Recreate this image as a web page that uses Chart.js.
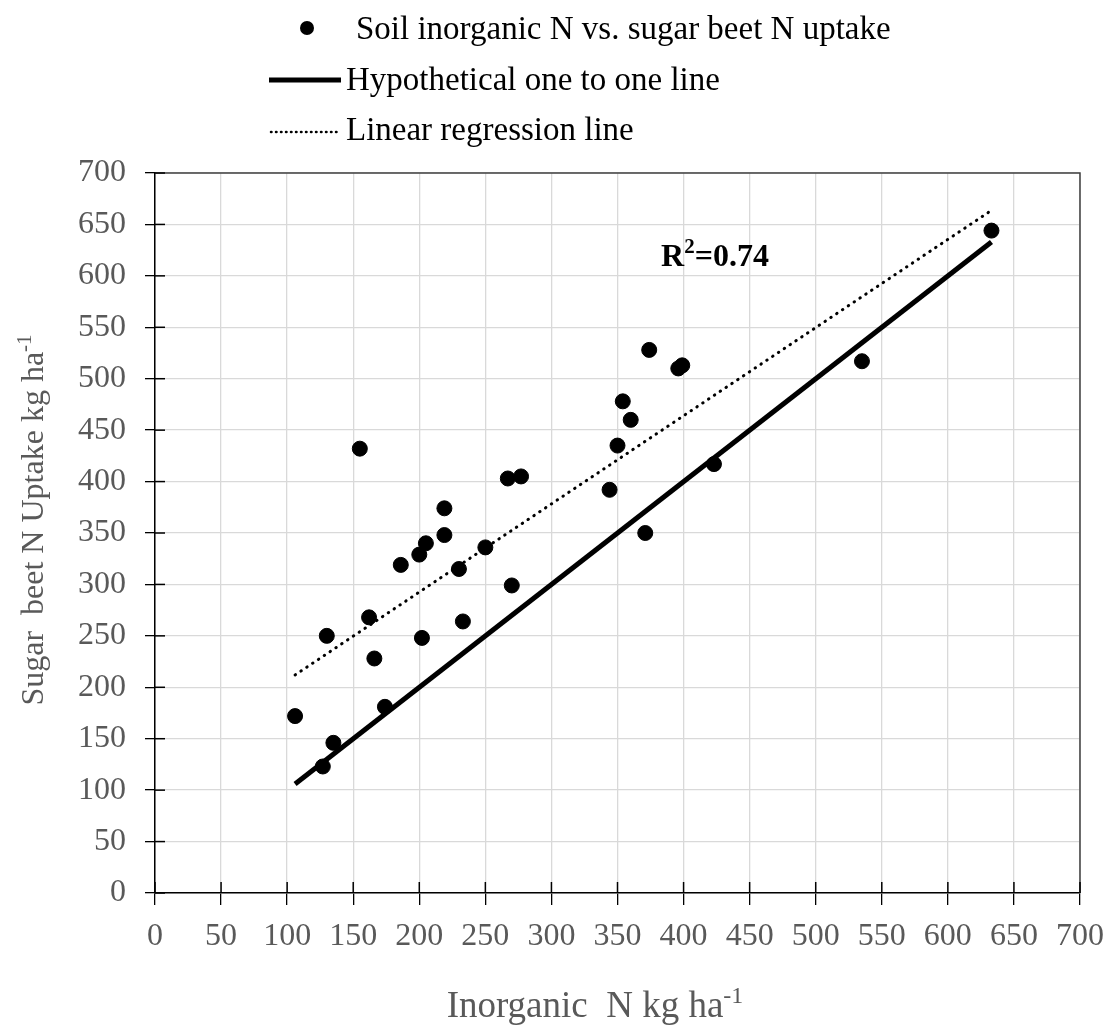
<!DOCTYPE html>
<html>
<head>
<meta charset="utf-8">
<script src="https://cdn.jsdelivr.net/npm/chart.js@4.4.1/dist/chart.umd.min.js"></script>
<style>
  html, body { margin: 0; padding: 0; background: #fff; }
  #wrap { width: 1111px; height: 1025px; }
</style>
</head>
<body>
<div id="wrap"><canvas id="chart" width="1111" height="1025"></canvas></div>
<script>
// Soil inorganic N (x) vs. sugar beet N uptake (y), kg/ha
var soilN =   [106, 127, 130, 135, 155, 162, 166, 174, 186, 200, 202, 205, 219, 219, 230, 233, 250, 267, 270, 277, 344, 350, 354, 360, 371, 374, 396, 399, 423, 535, 633];
var uptakeN = [172, 123, 250, 146, 432, 268, 228, 181, 319, 329, 248, 340, 374, 348, 315, 264, 336, 403, 299, 405, 392, 435, 478, 460, 350, 528, 510, 513, 417, 517, 644];

// 1:1 line and fitted regression line end points
var oneToOneX = [106, 633];
var oneToOneY = [106, 633];
var regressionX = [106, 631];
var regressionY = [212, 662];

var axisTicks = [0, 50, 100, 150, 200, 250, 300, 350, 400, 450, 500, 550, 600, 650, 700];
var rSquaredText = '0.74';

var serif = '"Liberation Serif", "Times New Roman", serif';
var grey = '#595959';

function toPoints(xs, ys) {
    var pts = [];
    for (var i = 0; i < xs.length; i++) {
        pts.push({x: xs[i], y: ys[i]});
    }
    return pts;
}

// text with a superscript part
function supText(ctx, base, sup, x, y, size, weight, align) {
    var supSize = Math.round(size * 0.66);
    ctx.font = weight + ' ' + size + 'px ' + serif;
    var bw = ctx.measureText(base).width;
    ctx.font = weight + ' ' + supSize + 'px ' + serif;
    var sw = ctx.measureText(sup).width;
    var start = align === 'left' ? x : x - (bw + sw) / 2;
    ctx.textAlign = 'left';
    ctx.textBaseline = 'alphabetic';
    ctx.font = weight + ' ' + size + 'px ' + serif;
    ctx.fillText(base, start, y);
    ctx.font = weight + ' ' + supSize + 'px ' + serif;
    ctx.fillText(sup, start + bw, y - size * 0.38);
    return start + bw + sw;
}

var extras = {
    id: 'extras',
    afterDraw: function (chart) {
        var ctx = chart.ctx;
        var area = chart.chartArea;
        var xs = chart.scales.x, ys = chart.scales.y;
        ctx.save();

        // frame on top and right
        ctx.strokeStyle = '#404040';
        ctx.lineWidth = 1.5;
        ctx.beginPath();
        ctx.moveTo(area.left, area.top);
        ctx.lineTo(area.right, area.top);
        ctx.lineTo(area.right, area.bottom);
        ctx.stroke();

        // inner half of the cross ticks
        ctx.strokeStyle = '#000';
        ctx.lineWidth = 1.5;
        axisTicks.forEach(function (v) {
            var py = ys.getPixelForValue(v);
            ctx.beginPath();
            ctx.moveTo(area.left, py);
            ctx.lineTo(area.left + 10, py);
            ctx.stroke();
            var px = xs.getPixelForValue(v);
            ctx.beginPath();
            ctx.moveTo(px, area.bottom);
            ctx.lineTo(px, area.bottom - 11);
            ctx.stroke();
        });

        // axis titles
        ctx.fillStyle = grey;
        supText(ctx, 'Inorganic  N kg ha', '-1', 595, 1017, 37, 'normal');
        ctx.save();
        ctx.translate(43, 520);
        ctx.rotate(-Math.PI / 2);
        supText(ctx, 'Sugar  beet N Uptake kg ha', '-1', 0, 0, 32, 'normal');
        ctx.restore();

        // R squared label
        ctx.fillStyle = '#000';
        var rx = xs.getPixelForValue(383), ry = ys.getPixelForValue(610);
        var end = supText(ctx, 'R', '2', rx, ry, 32, 'bold', 'left');
        ctx.font = 'bold 32px ' + serif;
        ctx.fillText('=' + rSquaredText, end, ry);

        // legend
        ctx.fillStyle = '#000';
        ctx.font = '33px ' + serif;
        ctx.textBaseline = 'middle';
        ctx.textAlign = 'left';
        ctx.beginPath();
        ctx.arc(307, 28, 7, 0, Math.PI * 2);
        ctx.fill();
        ctx.fillText('Soil inorganic N vs. sugar beet N uptake', 356, 30);

        ctx.strokeStyle = '#000';
        ctx.lineWidth = 5;
        ctx.beginPath();
        ctx.moveTo(269, 80);
        ctx.lineTo(341, 80);
        ctx.stroke();
        ctx.fillText('Hypothetical one to one line', 346, 81);

        ctx.lineWidth = 2.5;
        ctx.lineCap = 'round';
        ctx.setLineDash([0.5, 4.5]);
        ctx.beginPath();
        ctx.moveTo(271, 132);
        ctx.lineTo(341, 132);
        ctx.stroke();
        ctx.setLineDash([]);
        ctx.fillText('Linear regression line', 346, 131);

        ctx.restore();
    }
};

var ctx = document.getElementById('chart');
var chart = new Chart(ctx, {
    type: 'scatter',
    data: {
        datasets: [{
            label: 'Soil inorganic N vs. sugar beet N uptake',
            data: toPoints(soilN, uptakeN),
            backgroundColor: '#000',
            borderColor: '#000',
            pointRadius: 7.5,
            pointHoverRadius: 7.5,
            order: 0
        }, {
            label: 'Hypothetical one to one line',
            data: toPoints(oneToOneX, oneToOneY),
            showLine: true,
            borderColor: '#000',
            borderWidth: 5,
            pointRadius: 0,
            order: 1
        }, {
            label: 'Linear regression line',
            data: toPoints(regressionX, regressionY),
            showLine: true,
            borderColor: '#000',
            borderWidth: 3,
            borderCapStyle: 'round',
            borderDash: [0.5, 6.5],
            pointRadius: 0,
            order: 2
        }]
    },
    options: {
        responsive: false,
        animation: false,
        layout: {
            padding: {top: 173, right: 31, left: 0, bottom: 0}
        },
        plugins: {
            legend: {display: false},
            tooltip: {enabled: false}
        },
        scales: {
            x: {
                type: 'linear',
                min: 0,
                max: 700,
                afterFit: function (scale) {
                    scale.height = 132;
                    scale.paddingLeft = 0;
                    scale.paddingRight = 0;
                },
                ticks: {
                    stepSize: 50,
                    color: grey,
                    padding: 12,
                    maxRotation: 0,
                    autoSkip: false,
                    font: {family: serif, size: 32}
                },
                grid: {
                    color: '#d9d9d9',
                    lineWidth: 1.3,
                    tickColor: '#000',
                    tickLength: 12
                },
                border: {color: '#000', width: 1.5}
            },
            y: {
                type: 'linear',
                min: 0,
                max: 700,
                afterFit: function (scale) {
                    scale.width = 155;
                    scale.paddingTop = 0;
                    scale.paddingBottom = 0;
                },
                ticks: {
                    stepSize: 50,
                    color: grey,
                    padding: 19,
                    autoSkip: false,
                    font: {family: serif, size: 32}
                },
                grid: {
                    color: '#d9d9d9',
                    lineWidth: 1.3,
                    tickColor: '#000',
                    tickLength: 10
                },
                border: {color: '#000', width: 1.5}
            }
        }
    },
    plugins: [extras]
});
</script>
</body>
</html>
